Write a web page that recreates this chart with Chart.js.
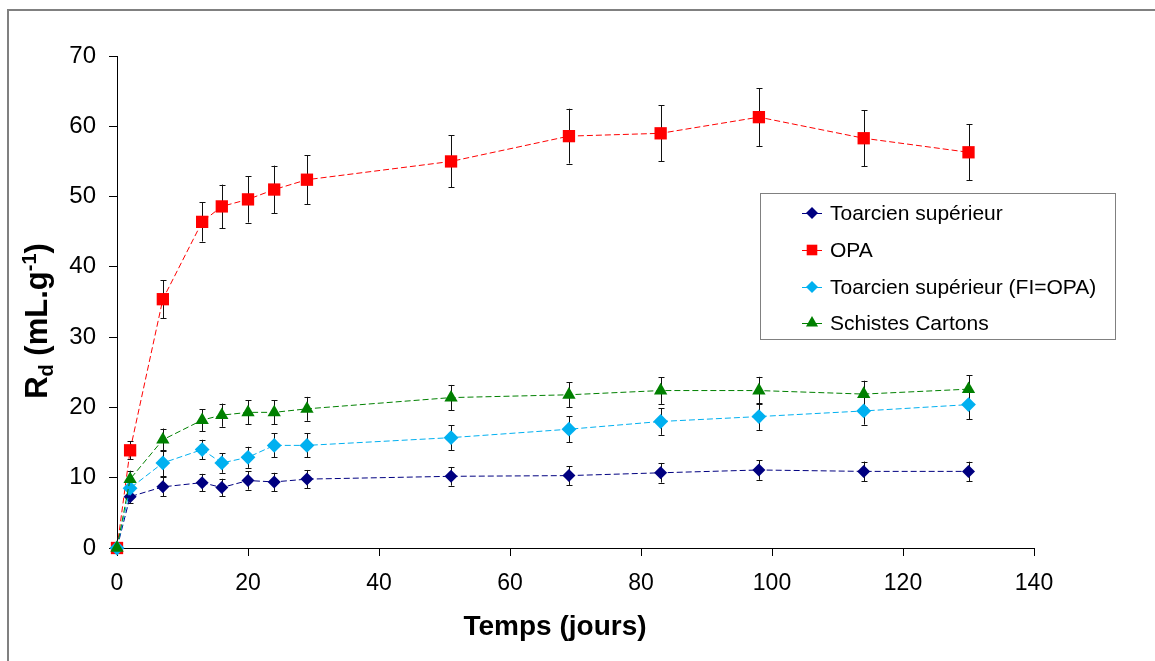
<!DOCTYPE html>
<html>
<head>
<meta charset="utf-8">
<title>Rd en fonction du temps</title>
<script src="https://cdn.jsdelivr.net/npm/chart.js@4.4.1/dist/chart.umd.min.js"></script>
<style>
    html, body { margin: 0; padding: 0; background: #fff; }
    #wrap { position: relative; width: 1155px; height: 661px; }
</style>
</head>
<body>
<div id="wrap"><canvas id="rdChart" width="1155" height="661"></canvas></div>
<script>
// Data (temps en jours, Rd en mL/g)
const days = [0, 2, 7, 13, 16, 20, 24, 29, 51, 69, 83, 98, 114, 130];

const toarcien    = [0, 7.3, 8.7, 9.3, 8.6, 9.6, 9.4, 9.8, 10.2, 10.3, 10.7, 11.1, 10.9, 10.9];
const toarcienErr = [0, 0.9, 1.35, 1.25, 1.25, 1.3, 1.3, 1.3, 1.33, 1.33, 1.4, 1.4, 1.4, 1.38];

const opa    = [0, 13.9, 35.4, 46.4, 48.6, 49.6, 51.0, 52.4, 55.0, 58.6, 59.0, 61.3, 58.3, 56.3];
const opaErr = [0, 1.3, 2.7, 2.8, 3.1, 3.3, 3.4, 3.5, 3.7, 3.9, 4.0, 4.1, 4.0, 4.0];

const toarcienOpa    = [0, 8.5, 12.1, 14.0, 12.1, 12.9, 14.6, 14.6, 15.7, 16.9, 18.0, 18.7, 19.5, 20.4];
const toarcienOpaErr = [0, 1.0, 1.9, 1.4, 1.4, 1.5, 1.7, 1.7, 1.75, 1.85, 1.9, 1.9, 1.95, 2.05];

const schistes    = [0, 9.8, 15.4, 18.2, 18.9, 19.3, 19.3, 19.8, 21.4, 21.8, 22.4, 22.4, 21.9, 22.6];
const schistesErr = [0, 1.2, 1.6, 1.55, 1.65, 1.7, 1.7, 1.7, 1.8, 1.8, 1.9, 1.95, 1.9, 2.0];

const xTicks = [0, 20, 40, 60, 80, 100, 120, 140];
const yTicks = [0, 10, 20, 30, 40, 50, 60, 70];

const FONT = "'Liberation Sans', Arial, Helvetica, sans-serif";

function makeSeries(label, values, errors, color, style, radius, order) {
    return {
        label: label,
        data: days.map((d, i) => ({ x: d, y: values[i] })),
        errors: errors,
        borderColor: color,
        backgroundColor: color,
        borderWidth: 1,
        borderDash: [6, 3],
        pointStyle: style,
        pointRadius: radius,
        pointBorderWidth: 0,
        pointBackgroundColor: color,
        tension: 0,
        clip: false,
        order: order
    };
}

// Frame, error bars, axis titles and legend box
const decorPlugin = {
    id: 'decor',
    beforeDraw(chart) {
        const ctx = chart.ctx;
        ctx.save();
        ctx.strokeStyle = '#808080';
        ctx.lineWidth = 2;
        ctx.beginPath();
        ctx.moveTo(8, 661);
        ctx.lineTo(8, 10);
        ctx.lineTo(1155, 10);
        ctx.stroke();
        ctx.restore();
    },
    beforeDatasetsDraw(chart) {
        const ctx = chart.ctx;
        const xs = chart.scales.x, ys = chart.scales.y;
        ctx.save();
        ctx.strokeStyle = '#111';
        ctx.lineWidth = 1;
        chart.data.datasets.forEach(ds => {
            ds.data.forEach((p, i) => {
                const e = ds.errors[i];
                if (!e) return;
                const x = Math.round(xs.getPixelForValue(p.x)) + 0.5;
                const y1 = ys.getPixelForValue(p.y + e);
                const y2 = ys.getPixelForValue(p.y - e);
                ctx.beginPath();
                ctx.moveTo(x, y1); ctx.lineTo(x, y2);
                ctx.moveTo(x - 3, Math.round(y1) + 0.5); ctx.lineTo(x + 3, Math.round(y1) + 0.5);
                ctx.moveTo(x - 3, Math.round(y2) + 0.5); ctx.lineTo(x + 3, Math.round(y2) + 0.5);
                ctx.stroke();
            });
        });
        ctx.restore();
    },
    afterDraw(chart) {
        const ctx = chart.ctx;
        ctx.save();
        ctx.fillStyle = '#000';

        // x title
        ctx.font = 'bold 28px ' + FONT;
        ctx.textAlign = 'center';
        ctx.textBaseline = 'middle';
        ctx.fillText('Temps (jours)', 555, 627);

        // y title with subscript and superscript
        const big = 'bold 31px ' + FONT, small = 'bold 20px ' + FONT;
        const parts = [
            { t: 'R', f: big, dy: 0 },
            { t: 'd', f: small, dy: 6 },
            { t: ' (mL.g', f: big, dy: 0 },
            { t: '-1', f: small, dy: -11 },
            { t: ')', f: big, dy: 0 }
        ];
        let total = 0;
        parts.forEach(p => { ctx.font = p.f; p.w = ctx.measureText(p.t).width; total += p.w; });
        ctx.translate(36, 321);
        ctx.rotate(-Math.PI / 2);
        ctx.textAlign = 'left';
        ctx.textBaseline = 'alphabetic';
        let cx = -total / 2;
        parts.forEach(p => {
            ctx.font = p.f;
            ctx.fillText(p.t, cx, 11 + p.dy);
            cx += p.w;
        });
        ctx.setTransform(1, 0, 0, 1, 0, 0);

        // legend
        ctx.strokeStyle = '#808080';
        ctx.lineWidth = 1;
        ctx.strokeRect(760.5, 193.5, 355, 146);
        const rows = [213, 250, 287, 323];
        chart.data.datasets.forEach((ds, k) => {
            const y = rows[k];
            ctx.strokeStyle = ds.borderColor;
            ctx.lineWidth = 1;
            ctx.beginPath();
            ctx.moveTo(802, y + 0.5);
            ctx.lineTo(822, y + 0.5);
            ctx.stroke();
            ctx.fillStyle = ds.backgroundColor;
            ctx.strokeStyle = ds.backgroundColor;
            Chart.helpers.drawPoint(ctx, {
                pointStyle: ds.pointStyle,
                rotation: 0,
                radius: ds.pointStyle === 'rect' ? 7.5 : (ds.pointStyle === 'triangle' ? 7 : 6),
                borderWidth: 0
            }, 812, y);
            ctx.fillStyle = '#000';
            ctx.font = '21px ' + FONT;
            ctx.textAlign = 'left';
            ctx.textBaseline = 'middle';
            ctx.fillText(ds.label, 830, y + 1);
        });
        ctx.restore();
    }
};

new Chart(document.getElementById('rdChart'), {
    type: 'line',
    data: {
        datasets: [
            makeSeries('Toarcien supérieur', toarcien, toarcienErr, '#000080', 'rectRot', 6.5, 3),
            makeSeries('OPA', opa, opaErr, '#FF0000', 'rect', 8.7, 2),
            makeSeries('Toarcien supérieur (FI=OPA)', toarcienOpa, toarcienOpaErr, '#00B0F0', 'rectRot', 7.4, 1),
            makeSeries('Schistes Cartons', schistes, schistesErr, '#008000', 'triangle', 7.7, 0)
        ]
    },
    options: {
        responsive: false,
        animation: false,
        devicePixelRatio: 1,
        layout: { padding: { top: 56, right: 121, bottom: 0, left: 0 } },
        plugins: {
            legend: { display: false },
            tooltip: { enabled: false }
        },
        scales: {
            x: {
                type: 'linear',
                min: 0,
                max: 140,
                afterBuildTicks: s => { s.ticks = xTicks.map(v => ({ value: v })); },
                afterFit: s => { s.height = 113; },
                ticks: { color: '#000', font: { family: FONT, size: 23 }, padding: 14, maxRotation: 0 },
                grid: { drawOnChartArea: false, drawTicks: true, tickLength: 8, color: '#000' },
                border: { color: '#000', width: 1 }
            },
            y: {
                type: 'linear',
                min: 0,
                max: 70,
                afterBuildTicks: s => { s.ticks = yTicks.map(v => ({ value: v })); },
                afterFit: s => { s.width = 117; },
                ticks: { color: '#000', font: { family: FONT, size: 24 }, padding: 13 },
                grid: { drawOnChartArea: false, drawTicks: true, tickLength: 8, color: '#000' },
                border: { color: '#000', width: 1 }
            }
        }
    },
    plugins: [decorPlugin]
});
</script>
</body>
</html>
